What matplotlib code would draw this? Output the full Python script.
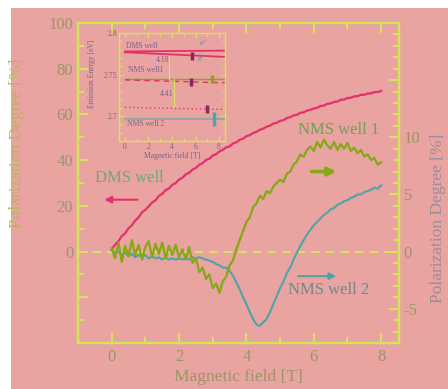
import matplotlib
matplotlib.use("Agg")
import matplotlib.pyplot as plt
from matplotlib.patches import Rectangle
from matplotlib.ticker import MultipleLocator, FixedLocator, FixedFormatter

plt.rcParams['font.family'] = ['Liberation Serif', 'DejaVu Serif']
plt.rcParams['mathtext.fontset'] = 'stix'

# ---------------- data ----------------
field = [0.0, 0.1, 0.2, 0.3, 0.4, 0.5, 0.6, 0.7, 0.8, 0.9,
         1.0, 1.1, 1.2, 1.3, 1.4, 1.5, 1.6, 1.7, 1.8, 1.9,
         2.0, 2.1, 2.2, 2.3, 2.4, 2.5, 2.6, 2.7, 2.8, 2.9,
         3.0, 3.1, 3.2, 3.3, 3.4, 3.5, 3.6, 3.7, 3.8, 3.9,
         4.0, 4.1, 4.2, 4.3, 4.4, 4.5, 4.6, 4.7, 4.8, 4.9,
         5.0, 5.1, 5.2, 5.3, 5.4, 5.5, 5.6, 5.7, 5.8, 5.9,
         6.0, 6.1, 6.2, 6.3, 6.4, 6.5, 6.6, 6.7, 6.8, 6.9,
         7.0, 7.1, 7.2, 7.3, 7.4, 7.5, 7.6, 7.7, 7.8, 7.9, 8.0]

dms_well = [1.0, 3.0, 4.5, 6.8, 8.0, 10.2, 11.5, 13.6, 15.0, 17.2,
            18.3, 19.8, 21.5, 22.4, 24.3, 25.2, 26.9, 27.6, 29.2, 30.0,
            31.5, 32.3, 33.8, 34.5, 35.9, 36.6, 38.0, 38.7, 40.1, 40.6,
            42.0, 42.6, 43.8, 44.5, 45.6, 46.0, 47.3, 47.8, 48.9, 49.4,
            50.5, 50.9, 51.9, 52.4, 53.3, 53.8, 54.6, 55.1, 56.0, 56.3,
            57.2, 57.5, 58.4, 58.8, 59.6, 59.8, 60.7, 60.9, 61.7, 62.0,
            62.6, 62.9, 63.7, 63.9, 64.6, 64.8, 65.5, 65.6, 66.4, 66.5,
            67.2, 67.3, 67.9, 68.0, 68.6, 68.6, 69.2, 69.2, 69.8, 69.8, 70.3]

nms_well1 = [0.3, -0.6, 0.8, -0.9, 0.5, -0.4, 1.0, -0.3, 0.6, -0.7,
             0.4, 0.9, -0.5, 0.7, -0.2, 0.8, -0.6, 0.5, -0.3, 0.6,
             -0.5, 0.2, -0.7, 0.4, -1.0, -0.6, -1.8, -1.4, -2.4, -2.0,
             -3.2, -2.8, -3.6, -2.6, -2.2, -1.2, -0.8, 0.2, 1.0, 1.8,
             2.6, 3.0, 3.9, 4.2, 4.9, 4.6, 5.3, 5.1, 5.7, 6.0,
             6.3, 6.1, 6.8, 7.0, 7.6, 7.9, 8.5, 8.3, 8.9, 9.2,
             8.8, 9.6, 9.1, 9.8, 9.3, 9.0, 9.6, 8.9, 9.4, 9.0,
             9.5, 8.8, 9.1, 8.6, 8.9, 8.3, 8.5, 8.0, 8.2, 7.6, 7.8]

nms_well2 = [0.1, -0.1, 0.0, -0.3, -0.1, -0.4, -0.2, -0.5, -0.3, -0.5,
             -0.3, -0.6, -0.4, -0.6, -0.5, -0.7, -0.5, -0.7, -0.6, -0.7,
             -0.6, -0.7, -0.6, -0.7, -0.5, -0.6, -0.5, -0.6, -0.7, -0.8,
             -0.9, -1.1, -1.2, -1.4, -1.4, -1.7, -2.1, -2.7, -3.3, -4.0,
             -4.6, -5.3, -5.9, -6.4, -6.5, -6.2, -5.9, -5.3, -4.6, -3.9,
             -3.2, -2.6, -1.9, -1.4, -0.7, -0.1, 0.5, 1.0, 1.5, 1.9,
             2.3, 2.6, 2.9, 3.2, 3.4, 3.7, 3.8, 4.1, 4.2, 4.4,
             4.5, 4.7, 4.8, 5.0, 5.0, 5.2, 5.3, 5.4, 5.6, 5.5, 5.8]

left_ticks = [0, 20, 40, 60, 80, 100]
right_ticks = [-5, 0, 5, 10]
x_ticks = [0, 2, 4, 6, 8]

# inset data (emission energy, eV)
inset_x = [0, 8.5]
inset_dms_sp = [2.7778, 2.7788]
inset_dms_sm = [2.7768, 2.7712]
inset_nms1 = [2.7450, 2.7450]
inset_nms1_dash = [2.7436, 2.7400]
inset_dot = [2.7105, 2.7080]
inset_nms2 = [2.6963, 2.6963]
cross1_x = [3.76, 3.76]
cross1_y = [2.7716, 2.7450]
cross2_x = [4.16, 4.16]
cross2_y = [2.7450, 2.7110]
mark_purple_x = [5.7, 5.65, 7.0]
mark_purple_y = [2.7725, 2.7410, 2.7086]
mark_green = (7.4, 2.7450)
mark_teal = (7.55, 2.6963)

# ---------------- style ----------------
PINK = '#e9a3a1'
SPINE = '#d4e55a'
TXT = '#9a9664'
DMS_C = '#e4306c'
N1_C = '#86a814'
N2_C = '#4fa5a5'
PURP = '#8a2a5a'
INTXT = '#7a6484'

fig = plt.figure(figsize=(4.48, 3.89), dpi=100, facecolor='white')
fig.patches.append(Rectangle((11/448, 0), 1, 1 - 8/389, transform=fig.transFigure,
                             facecolor=PINK, edgecolor='none', zorder=-10))

ax = fig.add_axes([78/448, 1 - 343/389, 321/448, 320/389])
ax.set_facecolor('none')
ax2 = ax.twinx()

ax.set_xlim(-1, 8.53)
ax.set_ylim(-40, 100)
ax2.set_ylim(-8, 20)

for a in (ax, ax2):
    for s in a.spines.values():
        s.set_color(SPINE)
        s.set_linewidth(1.6)

ax.xaxis.set_major_locator(FixedLocator(x_ticks))
ax.xaxis.set_minor_locator(MultipleLocator(1))
ax.yaxis.set_major_locator(FixedLocator([-40, -20] + left_ticks))
ax.yaxis.set_major_formatter(FixedFormatter(['', ''] + [str(t) for t in left_ticks]))
ax.yaxis.set_minor_locator(MultipleLocator(10))
ax2.yaxis.set_major_locator(FixedLocator(right_ticks + [15, 20]))
ax2.yaxis.set_major_formatter(FixedFormatter([str(t) for t in right_ticks] + ['', '']))
ax2.yaxis.set_minor_locator(MultipleLocator(1))

ax.tick_params(axis='both', which='both', direction='in', color=SPINE, width=1.4,
               labelcolor=TXT, labelsize=12, top=True)
ax.tick_params(axis='both', which='major', length=7)
ax.tick_params(axis='both', which='minor', length=4)
ax.tick_params(axis='y', right=False)
ax.tick_params(axis='x', pad=4)
ax2.tick_params(axis='y', which='both', direction='in', color=SPINE, width=1.4,
                labelcolor=TXT, labelsize=12)
ax2.tick_params(axis='y', which='major', length=7)
ax2.tick_params(axis='y', which='minor', length=4)

ax.set_xlabel('Magnetic field [T]', fontsize=12.5, color=TXT, labelpad=3)
ax.set_ylabel('Polarization Degree [%]', fontsize=12.5, color='#b6b85e')
ax.yaxis.set_label_coords(-0.165, 0.625)
ax2.set_ylabel('Polarization Degree [%]', fontsize=12.5, color='#9a8e9a', rotation=90)
ax2.yaxis.set_label_coords(1.097, 0.39)

ax.axhline(0, color=SPINE, lw=1.5, ls=(0, (4, 3)), zorder=1)

ax.plot(field, dms_well, color=DMS_C, lw=1.6, zorder=3)
ax2.plot(field, nms_well2, color=N2_C, lw=1.5, zorder=3)
ax2.plot(field, nms_well1, color=N1_C, lw=1.6, zorder=4)

# annotations
ax.text(-0.5, 30.5, 'DMS well', fontsize=12, color='#6aaa78')
ax.annotate('', xy=(-0.3, 22.7), xytext=(0.85, 22.7),
            arrowprops=dict(arrowstyle='-|>', color=DMS_C, lw=1.5, mutation_scale=10))
ax.text(7.95, 51.5, 'NMS well 1', fontsize=12, color='#70a050', ha='right')
ax2.annotate('', xy=(6.75, 7.0), xytext=(5.85, 7.0),
             arrowprops=dict(arrowstyle='-|>', color=N1_C, lw=2.5, mutation_scale=12))
ax.text(6.45, -18.5, 'NMS well 2', fontsize=12, color='#6e8a8a', ha='center')
ax2.annotate('', xy=(6.75, -2.15), xytext=(5.45, -2.15),
             arrowprops=dict(arrowstyle='-|>', color=N2_C, lw=1.5, mutation_scale=10))

# ---------------- inset ----------------
ins = fig.add_axes([119/448, 1 - 141/389, 106/448, 108/389])
ins.set_facecolor('none')
ins.set_xlim(-0.5, 8.5)
ins.set_ylim(2.67, 2.8)
for s in ins.spines.values():
    s.set_color(SPINE)
    s.set_linewidth(1.0)
ins.xaxis.set_major_locator(MultipleLocator(2))
ins.xaxis.set_minor_locator(MultipleLocator(1))
ins.yaxis.set_major_locator(FixedLocator([2.7, 2.75, 2.8]))
ins.yaxis.set_major_formatter(FixedFormatter(['2.7', '2.75', '2.8']))
ins.yaxis.set_minor_locator(MultipleLocator(0.01))
ins.tick_params(axis='both', which='both', direction='in', color=SPINE, width=0.8,
                labelcolor=INTXT, labelsize=5.5, top=True, right=True, pad=1.5)
ins.tick_params(axis='both', which='major', length=3.5)
ins.tick_params(axis='both', which='minor', length=2)
ins.set_xlabel('Magnetic field [T]', fontsize=5.5, color=INTXT, labelpad=1)
ins.set_ylabel('Emission Energy [eV]', fontsize=5.5, color=INTXT, labelpad=1)
ins.yaxis.set_label_coords(-0.22, 0.62)

ins.plot(inset_x, inset_dms_sp, color=DMS_C, lw=1.3)
ins.plot(inset_x, inset_dms_sm, color=DMS_C, lw=1.3)
ins.plot(inset_x, inset_nms1, color=N1_C, lw=1.0)
ins.plot(inset_x, inset_nms1_dash, color=DMS_C, lw=1.0, ls=(0, (4, 3)))
ins.plot(inset_x, inset_dot, color=DMS_C, lw=1.0, ls=(0, (1, 2)))
ins.plot(inset_x, inset_nms2, color='#8fa6a6', lw=1.3)
ins.plot(cross1_x, cross1_y, color=SPINE, lw=0.9)
ins.plot(cross2_x, cross2_y, color=SPINE, lw=0.9)
ins.plot(mark_purple_x, mark_purple_y, ls='none', marker='|', ms=6, mew=2.5, color=PURP)
ins.plot([mark_green[0]], [mark_green[1]], ls='none', marker='|', ms=6, mew=2.5, color=N1_C)
ins.plot([mark_teal[0]], [mark_teal[1]], ls='none', marker='|', ms=10, mew=2.5, color=N2_C)

ins.text(0.1, 2.7825, 'DMS well', fontsize=5.5, color=INTXT)
ins.text(0.3, 2.7525, 'NMS well1', fontsize=5.5, color=INTXT)
ins.text(0.2, 2.6875, 'NMS well 2', fontsize=5.5, color=INTXT)
ins.text(2.6, 2.7645, '4.18', fontsize=5.5, color=INTXT)
ins.text(3.0, 2.7245, '4.41', fontsize=5.5, color=INTXT)
ins.text(6.3, 2.7845, r'$\sigma^{+}$', fontsize=5.5, color='#4a9a9a')
ins.text(6.1, 2.7650, r'$\sigma^{-}$', fontsize=5.5, color='#4a9a9a')

fig.savefig('out.png', dpi=100, facecolor='white')
